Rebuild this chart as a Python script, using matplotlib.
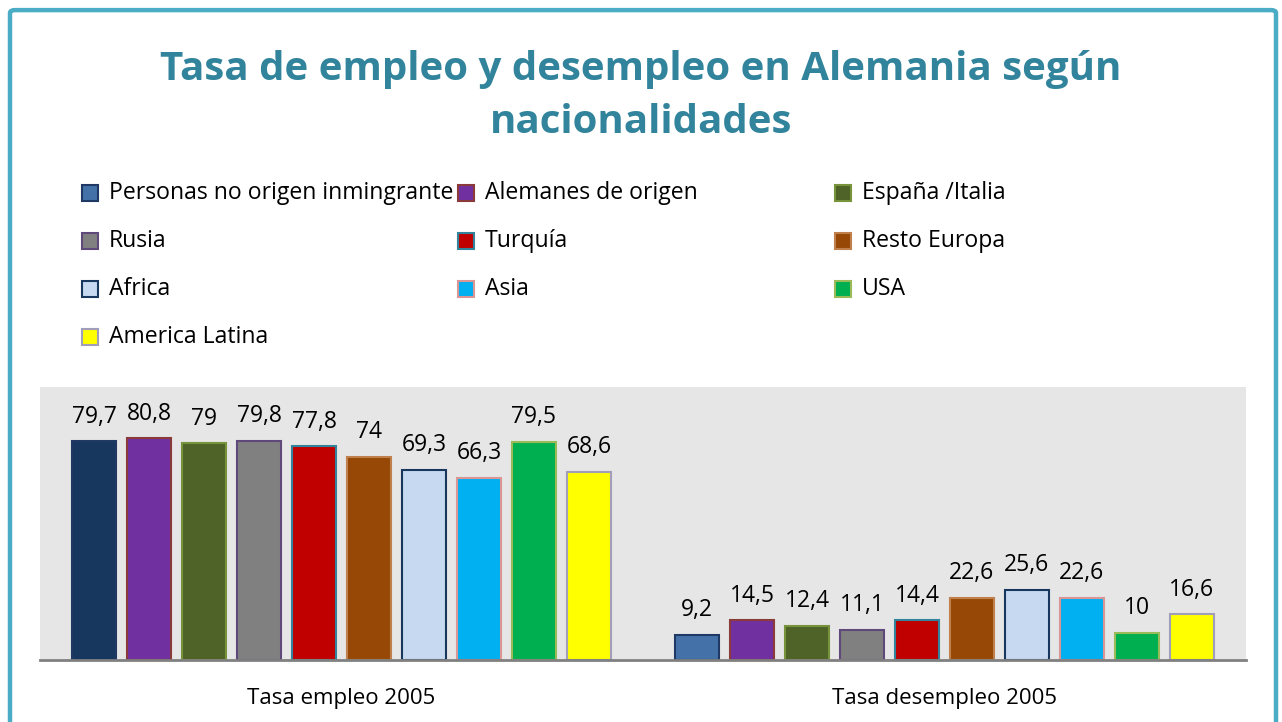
import numpy as np
import matplotlib.pyplot as plt
from matplotlib.patches import Rectangle, FancyBboxPatch

plt.rcParams['font.family'] = ['Open Sans', 'DejaVu Sans']

categories = ['Tasa empleo 2005', 'Tasa desempleo 2005']
series = ['Personas no origen inmingrante', 'Alemanes de origen', 'España /Italia',
          'Rusia', 'Turquía', 'Resto Europa', 'Africa', 'Asia', 'USA', 'America Latina']
empleo = [79.7, 80.8, 79, 79.8, 77.8, 74, 69.3, 66.3, 79.5, 68.6]
desempleo = [9.2, 14.5, 12.4, 11.1, 14.4, 22.6, 25.6, 22.6, 10, 16.6]

fills = ['#4472A8', '#7030A0', '#4F6228', '#808080', '#C00000',
         '#974806', '#C6D9F1', '#00B0F0', '#00B050', '#FFFF00']
edges = ['#1F3864', '#8B3A3A', '#77933C', '#5F497A', '#31849B',
         '#C0804D', '#17375E', '#D99694', '#9BBB59', '#A09EB8']
# first bar of the employment group has its own darker fill
first_empleo_fill = '#17375E'

fig = plt.figure(figsize=(12.82, 7.22), dpi=100)

# outer frame (bottom edge runs off the picture)
frame = FancyBboxPatch((10 / 1282, -0.05), 1266 / 1282, 748 / 722,
                       boxstyle='round,pad=0,rounding_size=0.004',
                       transform=fig.transFigure, fill=False,
                       edgecolor='#4BACC6', linewidth=3.2)
fig.patches.append(frame)

fig.text(0.5, 1 - 96 / 722, 'Tasa de empleo y desempleo en Alemania según\nnacionalidades',
         ha='center', va='center', fontsize=29, fontweight='bold', color='#31849B',
         linespacing=1.45)

# legend, laid out row by row like the original
col_x = [90, 466, 843]
row_y = [193, 241, 289, 337]
for i, (name, fc, ec) in enumerate(zip(series, fills, edges)):
    r, c = divmod(i, 3)
    x = col_x[c]
    y = row_y[r]
    fig.patches.append(Rectangle(((x - 8) / 1282, 1 - (y + 8) / 722), 16 / 1282, 16 / 722,
                                 transform=fig.transFigure, facecolor=fc,
                                 edgecolor=ec, linewidth=1.5))
    fig.text((x + 19) / 1282, 1 - y / 722, name, ha='left', va='center',
             fontsize=16.6, color='#000000')

ax = fig.add_axes([40 / 1282, 62 / 722, 1206 / 1282, 273 / 722])
ax.set_facecolor('#E6E6E6')

n = len(series)
pitch = 0.0912
width = 0.073
x = np.arange(len(categories))
for i in range(n):
    off = (i - (n - 1) / 2) * pitch
    vals = [empleo[i], desempleo[i]]
    fcs = [first_empleo_fill if i == 0 else fills[i], fills[i]]
    for j in range(len(categories)):
        ax.bar(x[j] + off, vals[j], width=width, color=fcs[j],
               edgecolor=edges[i], linewidth=1.5, zorder=3)
        lab = f'{vals[j]:g}'.replace('.', ',')
        ax.annotate(lab, (x[j] + off, vals[j]), xytext=(0, 9),
                    textcoords='offset points', ha='center', va='bottom',
                    fontsize=16.5, color='#000000')

ax.set_xlim(-0.5, 1.5)
ax.set_ylim(0, 99.4)
ax.set_yticks([])
ax.set_xticks(x)
ax.set_xticklabels(categories, fontsize=16)
ax.tick_params(axis='x', length=0, pad=20)
for s in ['top', 'right', 'left']:
    ax.spines[s].set_visible(False)
ax.spines['bottom'].set_color('#808080')
ax.spines['bottom'].set_linewidth(2)
ax.spines['bottom'].set_zorder(4)

fig.savefig('out.png', dpi=100)
